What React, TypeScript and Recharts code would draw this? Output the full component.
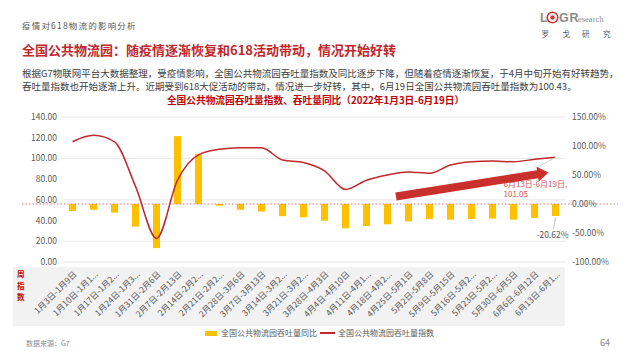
import React from 'react'
import { ComposedChart, Bar, Line, XAxis, YAxis, CartesianGrid, ReferenceLine } from 'recharts'

const FONT = '"Noto Sans CJK SC", "Noto Sans", sans-serif'

// 周区间
const weeks = [
  '1月3日-1月9日', '1月10日-1月16日', '1月17日-1月23日', '1月24日-1月30日',
  '1月31日-2月6日', '2月7日-2月13日', '2月14日-2月20日', '2月21日-2月27日',
  '2月28日-3月6日', '3月7日-3月13日', '3月14日-3月20日', '3月21日-3月27日',
  '3月28日-4月3日', '4月4日-4月10日', '4月11日-4月17日', '4月18日-4月24日',
  '4月25日-5月1日', '5月2日-5月8日', '5月9日-5月15日', '5月16日-5月22日',
  '5月23日-5月29日', '5月30日-6月5日', '6月6日-6月12日', '6月13日-6月19日',
]

// 吞吐量同比 (%)
const yoy = [
  -12, -10, -15, -39, -76, 117, 86, -3, -10, -13, -21, -23,
  -29, -42, -38, -35, -30, -26, -27, -26, -25, -27, -24, -20.62,
]

// 吞吐量指数
const throughput = [
  116.1, 122.3, 116, 73, 22.8, 79, 103.5, 108.8, 110.3, 110.3, 98.5, 96,
  88, 70, 79, 84, 87, 85.6, 93.6, 96.8, 97.5, 96.8, 99.1, 101.05,
]

const leftTicks = [0, 20, 40, 60, 80, 100, 120, 140]
const rightTicks = [-100, -50, 0, 50, 100, 150]

const data = weeks.map((week, i) => ({ week, yoy: yoy[i], index: throughput[i] }))

const shortLabel = (s: string) => (s.length > 10 ? s.slice(0, 9) + '...' : s)

const WeekTick = (props: any) => {
  const { x, y, payload } = props
  const ax = x + 2
  const ay = y + 10
  return (
    <text
      x={ax}
      y={ay}
      transform={`rotate(-45, ${ax}, ${ay})`}
      textAnchor="end"
      dominantBaseline="central"
      fontSize={8.5}
      fill="#595959"
    >
      {shortLabel(payload.value)}
    </text>
  )
}

const IndexLabel = (props: any) => {
  const { x, y, index, value } = props
  if (index !== weeks.length - 1) return <g />
  return (
    <g>
      <line x1={x} y1={y} x2={x - 18} y2={y + 10} stroke="#c8c8c8" strokeWidth={0.8} />
      <text x={x - 52} y={y + 30} fontSize={8} fill="#d9534f">{`${weeks[index]},`}</text>
      <text x={x - 52} y={y + 40} fontSize={8} fill="#d9534f">{value}</text>
    </g>
  )
}

const YoyLabel = (props: any) => {
  const { x, y, width, height, value, index } = props
  if (index !== weeks.length - 1) return <g />
  const cx = x + width / 2
  const end = Math.max(y, y + height)
  return (
    <g>
      <line x1={cx} y1={end + 1} x2={cx - 2} y2={end + 13} stroke="#b0b0b0" strokeWidth={0.8} />
      <text x={cx + 13} y={end + 22} textAnchor="end" fontSize={8.5} fill="#595959">{`${value}%`}</text>
    </g>
  )
}

function arrowPoints(x1: number, y1: number, x2: number, y2: number, shaft: number, headW: number, headL: number) {
  const dx = x2 - x1
  const dy = y2 - y1
  const len = Math.hypot(dx, dy)
  const ux = dx / len
  const uy = dy / len
  const px = -uy
  const py = ux
  const bx = x2 - ux * headL
  const by = y2 - uy * headL
  const pts = [
    [x1 + (px * shaft) / 2, y1 + (py * shaft) / 2],
    [bx + (px * shaft) / 2, by + (py * shaft) / 2],
    [bx + (px * headW) / 2, by + (py * headW) / 2],
    [x2, y2],
    [bx - (px * headW) / 2, by - (py * headW) / 2],
    [bx - (px * shaft) / 2, by - (py * shaft) / 2],
    [x1 - (px * shaft) / 2, y1 - (py * shaft) / 2],
  ]
  return pts.map((p) => p.join(',')).join(' ')
}

export default function App() {
  return (
    <div
      style={{
        position: 'absolute',
        left: 0,
        top: 0,
        width: 640,
        height: 360,
        background: '#fff',
        fontFamily: FONT,
        overflow: 'hidden',
      }}
    >
      <div style={{ position: 'absolute', left: 22, top: 19, fontSize: 8.5, lineHeight: '12px', letterSpacing: 1.2, color: '#595959' }}>
        疫情对618物流的影响分析
      </div>
      <div style={{ position: 'absolute', left: 22, top: 41, fontSize: 13, lineHeight: '18px', fontWeight: 700, color: '#c0282d' }}>
        全国公共物流园：随疫情逐渐恢复和618活动带动，情况开始好转
      </div>
      <div style={{ position: 'absolute', left: 22, top: 66.5, fontSize: 9.5, lineHeight: '13px', color: '#404040', whiteSpace: 'nowrap' }}>
        根据G7物联网平台大数据整理，受疫情影响，全国公共物流园吞吐量指数及同比逐步下降，但随着疫情逐渐恢复，于4月中旬开始有好转趋势，
        <br />
        吞吐量指数也开始逐渐上升。近期受到618大促活动的带动，情况进一步好转，其中，6月19日全国公共物流园吞吐量指数为100.43。
      </div>
      <div style={{ position: 'absolute', left: 0, width: 631, top: 94, textAlign: 'center', fontSize: 9.7, lineHeight: '12px', fontWeight: 700, color: '#c00000' }}>
        全国公共物流园吞吐量指数、吞吐量同比（2022年1月3日-6月19日）
      </div>

      {/* x-axis band */}
      <div style={{ position: 'absolute', left: 13, top: 267, width: 552, height: 59, background: '#f2f2f2' }} />
      <div style={{ position: 'absolute', left: 17, top: 268, width: 10, fontSize: 7.5, lineHeight: '11.7px', fontWeight: 700, color: '#c00000' }}>
        周<br />指<br />数
      </div>

      <div style={{ position: 'absolute', left: 0, top: 0 }}>
        <ComposedChart width={640} height={360} data={data} margin={{ top: 117, right: 0, bottom: 28, left: 0 }}>
          <CartesianGrid yAxisId="left" vertical={false} stroke="#e8e8e8" />
          <XAxis
            dataKey="week"
            interval={0}
            height={70}
            axisLine={false}
            tickLine={false}
            tickSize={0}
            tickMargin={0}
            tick={<WeekTick />}
          />
          <YAxis
            yAxisId="left"
            width={62}
            domain={[0, 140]}
            ticks={leftTicks}
            axisLine={false}
            tickLine={false}
            tickSize={0}
            tickMargin={5}
            tickFormatter={(v: number) => v.toFixed(2)}
            tick={{ fontSize: 8.5, fill: '#595959' }}
          />
          <YAxis
            yAxisId="right"
            orientation="right"
            width={74}
            domain={[-100, 150]}
            ticks={rightTicks}
            axisLine={false}
            tickLine={false}
            tickSize={0}
            tickMargin={6}
            tickFormatter={(v: number) => `${v.toFixed(2)}%`}
            tick={{ fontSize: 8.5, fill: '#595959' }}
          />
          <ReferenceLine
            yAxisId="right"
            y={0}
            shape={(p: any) => (
              <line x1={22} x2={618} y1={p.y1} y2={p.y2} stroke="#e57373" strokeWidth={1} strokeDasharray="1.5 2" />
            )}
          />
          <Bar
            yAxisId="right"
            dataKey="yoy"
            name="全国公共物流园吞吐量同比"
            fill="#ffc000"
            barSize={7}
            isAnimationActive={false}
            label={<YoyLabel />}
          />
          <Line
            yAxisId="left"
            dataKey="index"
            name="全国公共物流园吞吐量指数"
            type="monotone"
            stroke="#c0282d"
            strokeWidth={1.5}
            dot={false}
            isAnimationActive={false}
            label={<IndexLabel />}
          />
        </ComposedChart>
      </div>

      {/* legend */}
      <div style={{ position: 'absolute', left: 205, top: 327, display: 'flex', alignItems: 'center', fontSize: 8, lineHeight: '12px', color: '#595959', whiteSpace: 'nowrap' }}>
        <span style={{ display: 'inline-block', width: 12, height: 5, background: '#ffc000', marginRight: 4 }} />
        <span>全国公共物流园吞吐量同比</span>
        <span style={{ display: 'inline-block', width: 15, height: 1.5, background: '#c0282d', margin: '0 3px 0 3px' }} />
        <span>全国公共物流园吞吐量指数</span>
      </div>

      <div style={{ position: 'absolute', left: 26, top: 338, fontSize: 7, lineHeight: '10px', color: '#8c8c8c' }}>数据来源：G7</div>
      <div style={{ position: 'absolute', left: 600, top: 337, fontSize: 9, lineHeight: '12px', color: '#8c8c8c' }}>64</div>

      <svg width={640} height={360} style={{ position: 'absolute', left: 0, top: 0, pointerEvents: 'none' }}>
        <polygon points={arrowPoints(396, 196.5, 548.5, 172.5, 8, 15, 11)} fill="#c9302c" />
        {/* logo */}
        <text x={540} y={22} fontSize={12.5} fontWeight={700} fill="#8c8c8c" fontFamily="Liberation Sans, sans-serif">L</text>
        <circle cx={552.5} cy={17.5} r={5.3} fill="none" stroke="#d9342b" strokeWidth={1.6} />
        <circle cx={552.5} cy={17.5} r={2.2} fill="#d9342b" />
        <text x={559} y={22} fontSize={12.5} fontWeight={700} fill="#8c8c8c" fontFamily="Liberation Sans, sans-serif">G</text>
        <text x={569.5} y={22} fontSize={12.5} fontWeight={700} fill="#8c8c8c" fontFamily="Liberation Sans, sans-serif">R</text>
        <text x={578} y={22} fontSize={8.5} fill="#8c8c8c" fontFamily="Liberation Serif, serif">esearch</text>
        <text x={541.5} y={37} fontSize={7.5} fill="#595959">罗</text>
        <text x={562.5} y={37} fontSize={7.5} fill="#595959">戈</text>
        <text x={582} y={37} fontSize={7.5} fill="#595959">研</text>
        <text x={603} y={37} fontSize={7.5} fill="#595959">究</text>
      </svg>
    </div>
  )
}
